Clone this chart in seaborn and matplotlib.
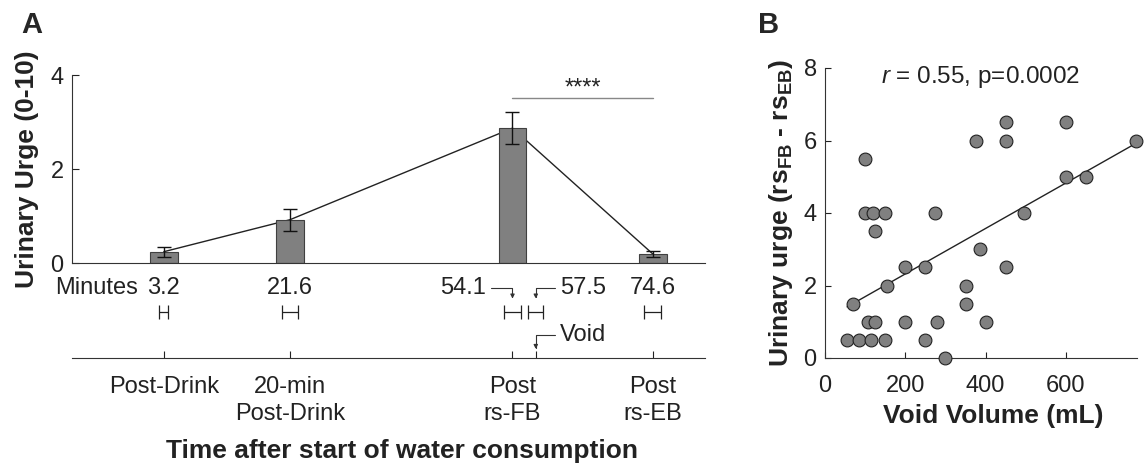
import matplotlib
matplotlib.use('Agg')
import matplotlib.pyplot as plt
import seaborn as sns
import pandas as pd

# Panel A: urge at each time point (mean, SEM) and time (mean, SD) in minutes
bar_times = [3.2, 21.6, 54.1, 74.6]
urge_mean = [0.24, 0.92, 2.87, 0.19]
urge_sem = [0.11, 0.23, 0.34, 0.07]
event_times = [3.2, 21.6, 54.1, 57.5, 74.6]
event_sd = [0.65, 1.2, 1.25, 1.1, 1.25]
event_labels = ['Post-Drink', '20-min\nPost-Drink', 'Post\nrs-FB', '', 'Post\nrs-EB']

# Panel B: void volume vs change in urge
void_ml = [55, 70, 85, 100, 100, 107, 115, 120, 125, 125, 150, 150, 155,
           200, 200, 250, 250, 275, 280, 300, 350, 350, 375, 385, 400,
           450, 450, 450, 495, 600, 600, 650, 775]
urge_diff = [0.5, 1.5, 0.5, 5.5, 4, 1, 0.5, 4, 1, 3.5, 4, 0.5, 2,
             2.5, 1, 2.5, 0.5, 4, 1, 0, 2, 1.5, 6, 3, 1,
             6.5, 6, 2.5, 4, 6.5, 5, 5, 6]

sns.set_style('ticks')
plt.rcParams['font.family'] = ['Liberation Sans', 'DejaVu Sans']
plt.rcParams['mathtext.fontset'] = 'custom'
plt.rcParams['mathtext.rm'] = 'Liberation Sans'
plt.rcParams['mathtext.it'] = 'Liberation Sans:italic'
plt.rcParams['mathtext.bf'] = 'Liberation Sans:bold'
txt = '#222222'
W, H = 1147, 468
fig = plt.figure(figsize=(W / 100, H / 100), dpi=100)

xlim = (-10.2, 82.2)
axA = fig.add_axes([72 / W, 1 - 263 / H, 633 / W, 188 / H])
axL = fig.add_axes([72 / W, 1 - 358 / H, 633 / W, 90 / H])
axB = fig.add_axes([825 / W, 1 - 358 / H, 312 / W, 290 / H])

# --- panel A bars
bars = pd.DataFrame({'time': bar_times, 'urge': urge_mean})
sns.barplot(data=bars, x='time', y='urge', native_scale=True, width=4 / 18.4,
            color='#808080', saturation=1, edgecolor='#404040', linewidth=0.8,
            errorbar=None, ax=axA)
sns.lineplot(x=bar_times, y=urge_mean, color='#222222', lw=1, zorder=0.5, ax=axA)
axA.errorbar(bar_times, urge_mean, yerr=urge_sem, fmt='none', ecolor='#111111',
             elinewidth=1, capsize=5, capthick=1, zorder=3)
axA.plot([54.1, 74.6], [3.51, 3.51], color='#888888', lw=1)
axA.text(64.35, 3.72, '****', ha='center', va='center', fontsize=17, color=txt)
axA.set_xlim(xlim)
axA.set_ylim(0, 4)
axA.set_yticks([0, 2, 4])
axA.set_xticks([])
axA.set_xlabel('')
axA.set_ylabel('Urinary Urge (0-10)', fontsize=19, fontweight='bold', color=txt, labelpad=8)
axA.tick_params(axis='y', direction='in', length=5, labelsize=17, pad=6, colors=txt)
sns.despine(ax=axA)

# --- panel A timeline below
axL.errorbar(event_times, [0.51] * len(event_times), xerr=event_sd, fmt='none',
             ecolor='#222222', elinewidth=0.9, capsize=4.8, capthick=0.9)
axL.set_xlim(xlim)
axL.set_ylim(0, 1)
axL.patch.set_alpha(0)
axL.set_yticks([])
axL.set_xticks(event_times)
axL.set_xticklabels(event_labels, linespacing=1.3)
axL.tick_params(axis='x', direction='in', length=5, labelsize=17, pad=13, colors=txt)
for s in ['top', 'left', 'right']:
    axL.spines[s].set_visible(False)
axL.set_xlabel('Time after start of water consumption', fontsize=19,
               fontweight='bold', color=txt)
axL.xaxis.set_label_coords(0.521, -0.9)

row_y = 0.78
axL.text(-0.6, row_y, 'Minutes', ha='right', va='center', fontsize=17, color=txt)
for t in [3.2, 21.6, 74.6]:
    axL.text(t, row_y, f'{t}', ha='center', va='center', fontsize=17, color=txt)
arrow = dict(arrowstyle='-|>', color='#333333', lw=0.8, mutation_scale=6,
             shrinkA=1, shrinkB=0, connectionstyle='angle,angleA=0,angleB=90,rad=0')
axL.annotate('54.1', xy=(54.1, 0.66), xytext=(50.3, row_y), ha='right', va='center',
             fontsize=17, color=txt, arrowprops=dict(arrow, relpos=(1, 0.5)))
axL.annotate('57.5', xy=(57.5, 0.66), xytext=(61.0, row_y), ha='left', va='center',
             fontsize=17, color=txt, arrowprops=dict(arrow, relpos=(0, 0.5)))
axL.annotate('Void', xy=(57.5, 0.1), xytext=(61.0, 0.26), ha='left', va='center',
             fontsize=17, color=txt, arrowprops=dict(arrow, relpos=(0, 0.5)))

# --- panel B
sns.regplot(x=void_ml, y=urge_diff, ci=None, ax=axB,
            scatter_kws=dict(s=85, color='#808080', edgecolor='#222222',
                             linewidths=0.8, alpha=1, clip_on=False, zorder=3),
            line_kws=dict(color='#222222', lw=1))
axB.set_xlim(0, 777)
axB.set_ylim(0, 8)
axB.set_xticks([0, 200, 400, 600])
axB.set_yticks([0, 2, 4, 6, 8])
axB.tick_params(direction='in', length=4, labelsize=17, colors=txt)
axB.tick_params(axis='x', pad=12)
axB.tick_params(axis='y', pad=6)
axB.set_xlabel('Void Volume (mL)', fontsize=19, fontweight='bold', color=txt)
axB.xaxis.set_label_coords(0.54, -0.16)
axB.set_ylabel(r'Urinary urge (rs$_{\bf FB}$ - rs$_{\bf EB}$)', fontsize=19,
               fontweight='bold', color=txt, labelpad=6)
axB.text(388, 7.75, r'$r$ = 0.55, p=0.0002', ha='center', va='center',
         fontsize=17.5, color=txt)
sns.despine(ax=axB)

for ax in [axA, axL, axB]:
    for s in ax.spines.values():
        s.set_color('#333333')

fig.text(32 / W, 1 - 25 / H, 'A', ha='center', va='center', fontsize=21, fontweight='bold')
fig.text(769 / W, 1 - 25 / H, 'B', ha='center', va='center', fontsize=21, fontweight='bold')

fig.savefig('out.png', dpi=100)
